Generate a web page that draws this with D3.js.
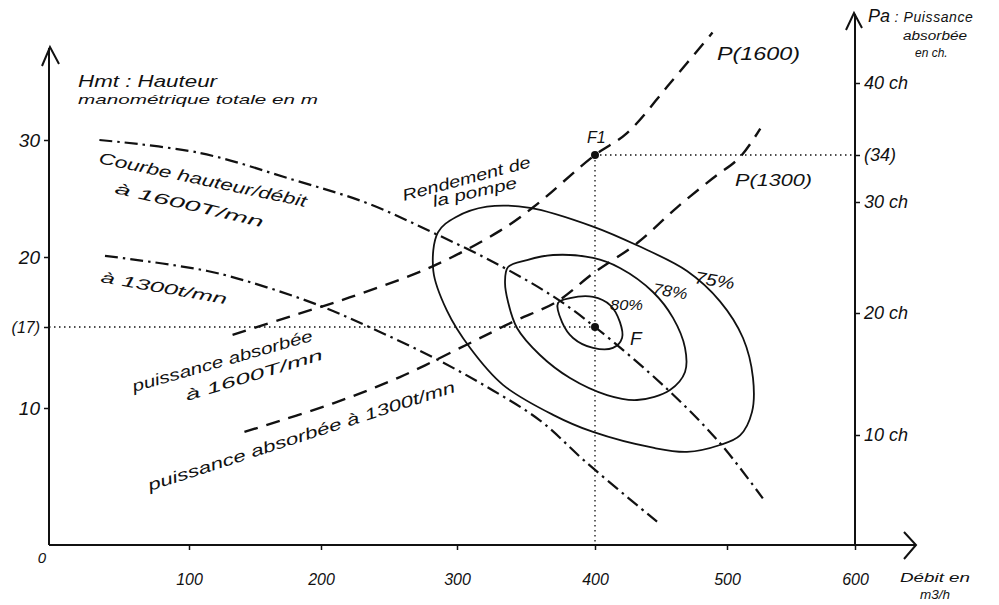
<!DOCTYPE html>
<html>
<head>
<meta charset="utf-8">
<script src="https://d3js.org/d3.v7.min.js"></script>
<style>
  body { margin: 0; background: #fff; }
  svg text { font-family: "Liberation Sans", "DejaVu Sans", sans-serif; font-style: italic; fill: #111; }
</style>
</head>
<body>
<svg id="chart" width="999" height="605"></svg>
<script>
// axis ticks
const debitTicks = [100, 200, 300, 400, 500, 600];
const hmtTicks = [10, 17, 20, 30];
const paTicks = [10, 20, 30, 34, 40];

// hauteur/debit curves (Q m3/h, Hmt m)
const h1600 = [[36,30],[108,28.9],[179,26.6],[234,24.6],[282,22.1],[329,19.7],[370,18.3],[400,17],[455,11.6],[495,7.4],[528,3.4]];
const h1300 = [[40,20.1],[114,19.4],[159,18.7],[202,17.85],[241,16.7],[282,14.4],[322,11.8],[360,9.1],[394,6.0],[447,1.7]];

// puissance absorbee (Q m3/h, Pa ch)
const p1600 = [[133,18.2],[179,19.8],[221,21.4],[282,24.2],[331,27.4],[355,29.5],[400,34],[424,35.8],[457,40],[489,44.2]];
const p1300 = [[142,10.25],[209,12.6],[258,14.75],[307,17.4],[341,19.3],[372,21.0],[399,23.6],[432,26.3],[462,29.5],[489,32.0],[510,33.8],[526,36.2]];

// rendement iso-curves (Q, Hmt)
const eff75 = [[282.6,19.4],[286,22.1],[299,23.4],[321.7,24.3],[352.9,24.2],[398.6,22.6],[431.8,21.0],[469.7,19.4],[494.7,18.1],[512.5,16.05],[520.3,12.6],[519.5,9.7],[510.2,8.0],[494.7,7.3],[469.7,6.8],[443.9,7.1],[398.6,8.25],[369.6,9.5],[333.3,12.0],[309.4,15.2],[292.6,17.7]];
const eff78 = [[337,19.57],[350.7,19.87],[369.6,20.17],[398.6,19.96],[418.9,19.53],[443.9,18.5],[459.1,17.39],[468.2,15.19],[468.2,13.11],[456.8,11.56],[431.8,10.69],[409.1,11.12],[381.9,12.59],[360.1,14.58],[343.5,16.91],[337,18.07],[334.8,18.93]];
const eff80 = [[373.2,18.03],[381.9,18.24],[398.6,18.29],[411.4,17.94],[418.9,17.21],[420.5,16.05],[413.6,15.19],[398.6,15.19],[384.1,16.05],[376.1,17.21]];

const pointF = [400, 17];
const pointF1 = [400, 34];

const svg = d3.select("#chart");
svg.append("rect").attr("width", 999).attr("height", 605).attr("fill", "#fff");

// hand drawn axes are a bit uneven, so polylinear scales
const x = d3.scaleLinear().domain([0,100,200,300,400,500,600]).range([49,189,321,457,595,727,855]);
const yL = d3.scaleLinear().domain([0,10,17,20,30]).range([545,408,327,257,140]);
const yR = d3.scaleLinear().domain([0,10,20,30,34,40]).range([545,435,313,202,155,83]);

const ink = "#111";

// axes lines + arrows
svg.append("path").attr("d", "M49,545 L49,48 M42,66 L50,47 L59,64").attr("stroke", ink).attr("stroke-width", 2).attr("fill", "none");
svg.append("path").attr("d", "M855,545 L855,14 M846,30 L854,13 L862,28").attr("stroke", ink).attr("stroke-width", 2).attr("fill", "none");
svg.append("path").attr("d", "M49,545 L915,545 M904,532 L916,545 L904,559").attr("stroke", ink).attr("stroke-width", 2).attr("fill", "none");

// tick axes via d3
const gx = svg.append("g").attr("transform", "translate(0,545)")
  .call(d3.axisBottom(x).tickValues(debitTicks).tickSize(5).tickPadding(24));
const gl = svg.append("g").attr("transform", "translate(49,0)")
  .call(d3.axisLeft(yL).tickValues(hmtTicks).tickSize(5).tickPadding(4)
    .tickFormat(d => d === 17 ? "(17)" : d));
const gr = svg.append("g").attr("transform", "translate(855,0)")
  .call(d3.axisRight(yR).tickValues(paTicks).tickSize(5).tickPadding(4)
    .tickFormat(d => d === 34 ? "(34)" : d + " ch"));

[gx, gl, gr].forEach(g => {
  g.select(".domain").remove();
  g.selectAll(".tick line").attr("stroke", ink).attr("stroke-width", 1.5);
  g.selectAll(".tick text").attr("font-family", "Liberation Sans, sans-serif").attr("font-style", "italic").attr("fill", ink);
});
gx.selectAll(".tick text").attr("font-size", 16);
gl.selectAll(".tick text").attr("font-size", 19);
gl.selectAll(".tick").filter(d => d === 17).select("text").attr("font-size", 16);
gr.selectAll(".tick text").attr("font-size", 18);

svg.append("text").attr("x", 42).attr("y", 563).attr("text-anchor", "middle").attr("font-size", 15).text("0");

// guide lines (dotted)
const dotted = (x1, y1, x2, y2) => svg.append("line").attr("x1", x1).attr("y1", y1).attr("x2", x2).attr("y2", y2)
  .attr("stroke", ink).attr("stroke-width", 1.3).attr("stroke-dasharray", "1.5,3.5");
dotted(x(0), yL(pointF[1]), x(pointF[0]), yL(pointF[1]));
dotted(x(pointF1[0]), yR(pointF1[1]), x(pointF1[0]), yL(0));
dotted(x(pointF1[0]), yR(pointF1[1]), x(600), yR(pointF1[1]));

// curves
const lineL = d3.line().x(d => x(d[0])).y(d => yL(d[1])).curve(d3.curveCatmullRom.alpha(0.5));
const lineR = d3.line().x(d => x(d[0])).y(d => yR(d[1])).curve(d3.curveCatmullRom.alpha(0.5));
const loopL = d3.line().x(d => x(d[0])).y(d => yL(d[1])).curve(d3.curveCatmullRomClosed.alpha(0.5));

[h1600, h1300].forEach(s => svg.append("path").attr("d", lineL(s)).attr("fill", "none")
  .attr("stroke", ink).attr("stroke-width", 2.2).attr("stroke-dasharray", "13,5,2.5,5"));
[p1600, p1300].forEach(s => svg.append("path").attr("d", lineR(s)).attr("fill", "none")
  .attr("stroke", ink).attr("stroke-width", 2.4).attr("stroke-dasharray", "14,9"));
[eff75, eff78, eff80].forEach(s => svg.append("path").attr("d", loopL(s)).attr("fill", "none")
  .attr("stroke", ink).attr("stroke-width", 1.8));

// operating points
svg.append("circle").attr("cx", x(pointF[0])).attr("cy", yL(pointF[1])).attr("r", 4).attr("fill", ink);
svg.append("circle").attr("cx", x(pointF1[0])).attr("cy", yR(pointF1[1])).attr("r", 4).attr("fill", ink);

// text annotations, textLength keeps the hand-written widths
function label(txt, px, py, size, rot, len) {
  const t = svg.append("text").attr("font-size", size).text(txt);
  if (rot) t.attr("transform", `translate(${px},${py}) rotate(${rot})`);
  else t.attr("x", px).attr("y", py);
  if (len) t.attr("textLength", len).attr("lengthAdjust", "spacingAndGlyphs");
  return t;
}
label("Hmt : Hauteur", 78, 87, 17, 0, 139);
label("manométrique totale en m", 78, 104, 13, 0, 240);
const pa = label("", 868, 22, 18, 0);
pa.append("tspan").text("Pa");
pa.append("tspan").attr("font-size", 14).attr("letter-spacing", 0.6).text(" : Puissance");
label("absorbée", 903, 40, 12, 0, 64);
label("en ch.", 915, 57, 12);
label("Débit en", 900, 582, 13, 0, 70);
label("m3/h", 920, 599, 13, 0, 30);

label("Courbe hauteur/débit", 98, 163, 16, 12, 212);
label("à 1600T/mn", 114, 193, 15, 13, 152);
label("à 1300t/mn", 100, 282, 15, 10, 128);
label("puissance absorbée", 134, 392, 16, -16, 187);
label("à 1600T/mn", 187, 401, 15, -17, 143);
label("puissance absorbée à 1300t/mn", 150, 491, 16, -18, 322);
label("Rendement de", 404, 201, 16, -15, 132);
label("la pompe", 434, 207, 16, -13, 86);

label("P(1600)", 717, 60, 18, 0, 83);
label("P(1300)", 735, 186, 17, 0, 77);
label("80%", 610, 310, 14, 0, 33);
label("78%", 652, 294, 16, 9, 35);
label("75%", 694, 283, 17, 9, 40);
label("F", 630, 345, 19);
label("F1", 587, 143, 16);
</script>
</body>
</html>
